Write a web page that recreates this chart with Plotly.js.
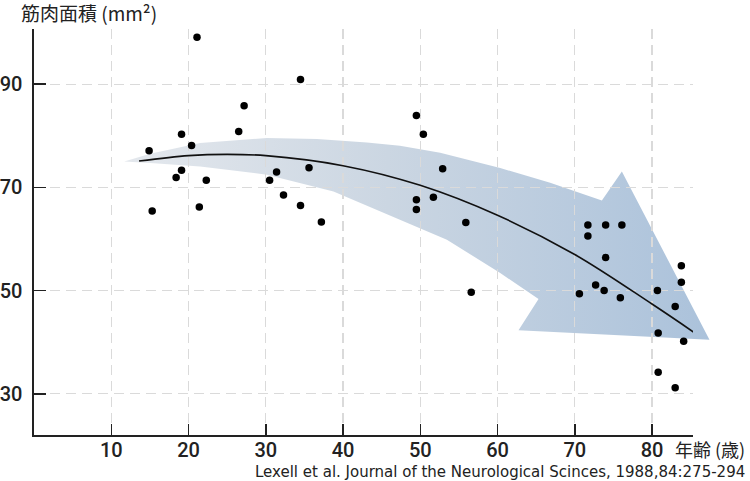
<!DOCTYPE html>
<html>
<head>
<meta charset="utf-8">
<script src="https://cdn.plot.ly/plotly-3.0.1.min.js"></script>
<style>html,body{margin:0;padding:0;background:#fff;}#chart{width:750px;height:481px;}</style>
</head>
<body>
<div id="chart"></div>
<script>
// Measured data (age in years, muscle area in mm²)
const ages = [14.9,15.3,18.4,19.1,19.1,20.4,21.1,21.4,22.3,26.5,27.2,30.5,31.4,32.3,34.5,34.5,35.6,37.2,
              49.5,49.5,49.5,50.4,51.7,52.9,55.9,56.6,
              70.6,71.7,71.7,72.7,73.8,74.0,74.0,75.9,76.1,80.7,80.8,80.8,83.0,83.0,83.8,83.8,84.1];
const areas = [77.1,65.4,71.9,73.3,80.3,78.1,99.1,66.2,71.4,80.8,85.8,71.4,73.0,68.5,90.9,66.5,73.8,63.3,
               83.9,67.6,65.7,80.3,68.1,73.6,63.2,49.7,
               49.4,62.7,60.6,51.1,50.0,62.7,56.4,48.6,62.7,50.0,41.8,34.2,46.9,31.2,54.8,51.6,40.2];

// Trend curve
const trendAge  = [13.6, 20, 25, 30, 40, 50, 60, 70, 80, 85.4];
const trendArea = [75.1, 76.15, 76.4, 76.15, 74.2, 70.4, 64.6, 57.0, 47.4, 41.95];

// Decorative arrow outline (age, area)
const arrowAge  = [11.68,15.04,21.5,30.15,36.62,43.09,47.37,52.58,60.35,66.82,73.51,76.1,87.44,62.72,65.31,60.35,53.45,47.37,38.77,30.15,21.5,15.04,11.68];
const arrowArea = [75.03,76.52,78.6,79.56,79.37,78.71,78.07,76.72,73.75,70.91,67.48,73.09,40.49,42.3,48.38,53.41,59.86,63.74,69.22,72.46,74.06,74.72,75.03];

const xTicks = [10,20,30,40,50,60,70,80];
const yTicks = [30,50,70,90];

const yTitle = '筋肉面積 (mm²)';
const xTitle = '年齢 (歳)';
const source = 'Lexell et al. Journal of the Neurological Scinces, 1988,84:275-294';

const yRange = [22.03, 100.68];
const tickFont = {family: 'Roboto, "DejaVu Sans", sans-serif', size: 20, color: '#222', weight: 500};
const cjk = '"Noto Sans CJK JP", "Noto Sans", sans-serif';

const traces = [
  {
    type: 'scatter', mode: 'lines', x: arrowAge, y: arrowArea,
    xaxis: 'x', yaxis: 'y2', fill: 'toself', line: {width: 0, color: 'rgba(0,0,0,0)'},
    fillgradient: {type: 'horizontal', colorscale: [[0, '#e4e8ed'], [0.45, '#cbd6e2'], [1, '#abc2db']]},
    hoverinfo: 'skip', showlegend: false
  },
  {
    type: 'scatter', mode: 'lines', x: trendAge, y: trendArea,
    xaxis: 'x2', yaxis: 'y', line: {color: '#111', width: 1.6, shape: 'spline', smoothing: 1},
    showlegend: false
  },
  {
    type: 'scatter', mode: 'markers', x: ages, y: areas,
    xaxis: 'x2', yaxis: 'y', marker: {color: '#000', size: 7.5},
    showlegend: false
  }
];

const gridStyle = {showgrid: true, gridcolor: '#dadada', gridwidth: 1.2, griddash: '10px,6px'};

const layout = {
  width: 750, height: 481,
  margin: {l: 34, r: 35, t: 29, b: 46, pad: 0},
  paper_bgcolor: '#fff', plot_bgcolor: 'rgba(0,0,0,0)',
  showlegend: false,
  xaxis: {domain: [0, 1], range: [0, 88.155], visible: false, anchor: 'y2', fixedrange: true},
  yaxis2: {domain: [0, 1], range: yRange, visible: false, anchor: 'x', fixedrange: true},
  xaxis2: Object.assign({
    domain: [0, 0.96769], range: [0, 85.307], anchor: 'y',
    tickmode: 'array', tickvals: xTicks, ticktext: xTicks.map(String),
    ticks: 'inside', ticklen: 11, tickwidth: 1.5, tickcolor: '#222',
    showline: true, linecolor: '#222', linewidth: 1.6,
    zeroline: false, tickfont: tickFont, ticklabelstandoff: -4
  }, gridStyle),
  yaxis: Object.assign({
    domain: [0, 1], range: yRange, anchor: 'x2',
    tickmode: 'array', tickvals: yTicks, ticktext: yTicks.map(String),
    ticks: 'inside', ticklen: 12, tickwidth: 1.5, tickcolor: '#222',
    showline: true, linecolor: '#222', linewidth: 1.6,
    zeroline: false, tickfont: tickFont, ticklabelstandoff: 6
  }, gridStyle),
  annotations: [
    {text: yTitle, xref: 'paper', yref: 'paper', x: 0.081, y: 1.0405, xanchor: 'center', yanchor: 'middle',
     showarrow: false, font: {family: cjk, size: 19, color: '#222'}},
    {text: xTitle, xref: 'paper', yref: 'paper', x: 0.993, y: -0.035, xanchor: 'center', yanchor: 'middle',
     showarrow: false, font: {family: cjk, size: 18, color: '#222'}},
    {text: source, xref: 'paper', yref: 'paper', x: 0.6843, y: -0.0905, xanchor: 'center', yanchor: 'middle',
     showarrow: false, font: {family: '"DejaVu Sans", sans-serif', size: 15, color: '#222'}}
  ]
};

Plotly.newPlot('chart', traces, layout, {displayModeBar: false, staticPlot: true});
</script>
</body>
</html>
